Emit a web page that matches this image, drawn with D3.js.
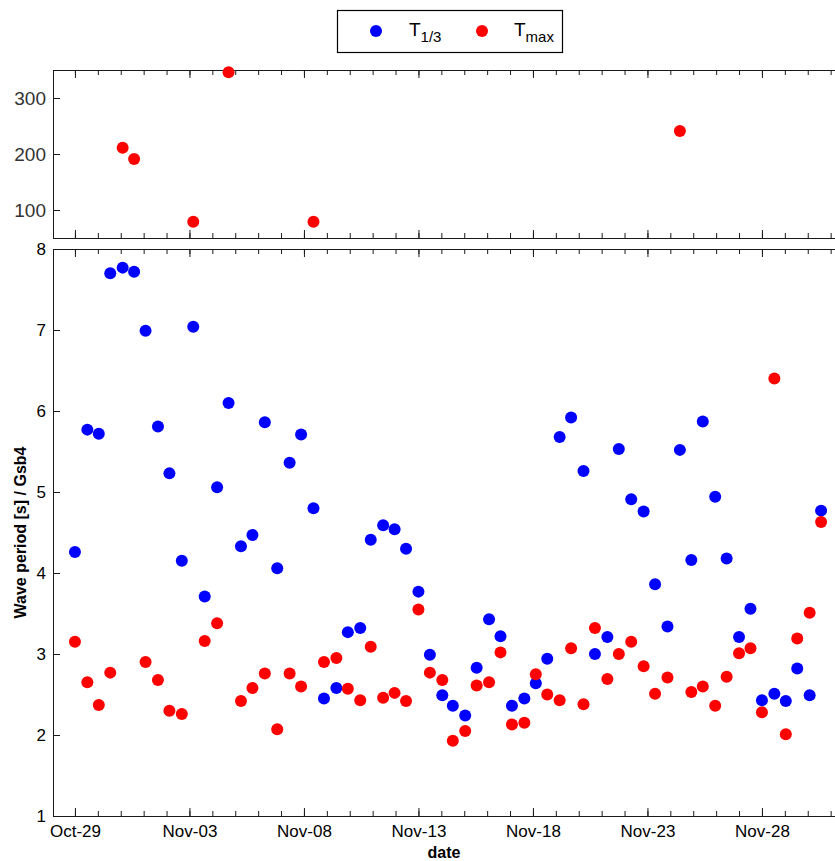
<!DOCTYPE html>
<html>
<head>
<meta charset="utf-8">
<script src="https://cdn.jsdelivr.net/npm/d3@7"></script>
<style>
  body { margin: 0; background: #fff; }
  svg { display: block; }
  text { font-family: "Liberation Sans", Arial, sans-serif; }
  .narrow { font-family: "Liberation Sans Narrow", "Arial Narrow", "Liberation Sans", sans-serif; }
</style>
</head>
<body>
<svg id="chart" width="835" height="861"></svg>
<script>
// Wave periods at station Gsb4, one value per tidal cycle (~12.4 h).
const startTime = "2012-10-29T00:00";
const hoursFromStart = [
  0, 13, 25, 37, 50, 62, 74, 87, 99, 112,
  124, 136, 149, 161, 174, 186, 199, 212, 225, 237,
  250, 261, 274, 286, 299, 310, 323, 335, 347, 360,
  372, 385, 396, 409, 421, 434, 446, 458, 471, 483,
  495, 508, 520, 533, 545, 558, 570, 583, 596, 608,
  621, 634, 646, 658, 671, 683, 696, 708, 720, 733,
  745, 757, 770, 782
];
const tOneThird = [
  4.26, 5.77, 5.72, 7.70, 7.77, 7.72, 6.99, 5.81, 5.23, 4.15,
  7.04, 3.71, 5.06, 6.10, 4.33, 4.47, 5.86, 4.06, 5.36, 5.71,
  4.80, 2.45, 2.58, 3.27, 3.32, 4.41, 4.59, 4.54, 4.30, 3.77,
  2.99, 2.49, 2.36, 2.24, 2.83, 3.43, 3.22, 2.36, 2.45, 2.64,
  2.94, 5.68, 5.92, 5.26, 3.00, 3.21, 5.53, 4.91, 4.76, 3.86,
  3.34, 5.52, 4.16, 5.87, 4.94, 4.18, 3.21, 3.56, 2.43, 2.51,
  2.42, 2.82, 2.49, 4.77
];
const tMax = [
  3.15, 2.65, 2.37, 2.77, 211, 191, 2.90, 2.68, 2.30, 2.26,
  79, 3.16, 3.38, 346, 2.42, 2.58, 2.76, 2.07, 2.76, 2.60,
  79, 2.90, 2.95, 2.57, 2.43, 3.09, 2.46, 2.52, 2.42, 3.55,
  2.77, 2.68, 1.93, 2.05, 2.61, 2.65, 3.02, 2.13, 2.15, 2.75,
  2.50, 2.43, 3.07, 2.38, 3.32, 2.69, 3.00, 3.15, 2.85, 2.51,
  2.71, 241, 2.53, 2.60, 2.36, 2.72, 3.01, 3.07, 2.28, 6.40,
  2.01, 3.19, 3.51, 4.63
];
const dateTickLabels = ["Oct-29", "Nov-03", "Nov-08", "Nov-13", "Nov-18", "Nov-23", "Nov-28"];
const lowerTicks = [1, 2, 3, 4, 5, 6, 7, 8];
const upperTicks = [100, 200, 300];
const lowerRange = [1, 8];
const upperRange = [50, 350];
const seriesColors = { sig: "#0000ff", max: "#ff0000" };

const svg = d3.select("#chart");
const plotLeft = 53, plotRight = 844;
const upperBox = { top: 70, bottom: 238 };
const lowerBox = { top: 249, bottom: 816 };
const r = 6;

const t0 = new Date(startTime);
const times = hoursFromStart.map(h => d3.timeHour.offset(t0, h));
const parseTick = d3.timeParse("%Y-%b-%d");
const majorDates = dateTickLabels.map(s => parseTick(t0.getFullYear() + "-" + s));
const fmtTick = d3.timeFormat("%b-%d");

const x = d3.scaleTime()
  .domain([d3.timeHour.offset(t0, -23), d3.timeHour.offset(t0, 806)])
  .range([plotLeft, plotRight]);
const minorDates = d3.timeDay.range(x.domain()[0], x.domain()[1]);

const yLow = d3.scaleLinear().domain(lowerRange).range([lowerBox.bottom, lowerBox.top]);
const yUp = d3.scaleLinear().domain(upperRange).range([upperBox.bottom, upperBox.top]);

function frame(box, y, ticks) {
  const g = svg.append("g");
  g.append("rect")
    .attr("x", plotLeft + 0.5).attr("y", box.top + 0.5)
    .attr("width", plotRight - plotLeft).attr("height", box.bottom - box.top)
    .attr("fill", "none").attr("stroke", "#1a1a1a").attr("stroke-width", 1);

  // date ticks along top and bottom edges, pointing inwards
  const tickSets = [
    { vals: minorDates, len: 5 },
    { vals: majorDates, len: 8 }
  ];
  tickSets.forEach(ts => {
    g.append("g").attr("transform", `translate(0,${box.bottom})`)
      .call(d3.axisBottom(x).tickValues(ts.vals).tickSize(-ts.len).tickSizeOuter(0).tickFormat(""))
      .call(a => a.select(".domain").remove());
    g.append("g").attr("transform", `translate(0,${box.top})`)
      .call(d3.axisTop(x).tickValues(ts.vals).tickSize(-ts.len).tickSizeOuter(0).tickFormat(""))
      .call(a => a.select(".domain").remove());
  });

  const ay = g.append("g").attr("transform", `translate(${plotLeft},0)`)
    .call(d3.axisLeft(y).tickValues(ticks).tickSize(-7).tickSizeOuter(0)
      .tickPadding(7).tickFormat(d3.format("d")));
  ay.select(".domain").remove();
  g.selectAll(".tick line").attr("stroke", "#1a1a1a");
  return { g, ay };
}

const up = frame(upperBox, yUp, upperTicks);
up.ay.selectAll(".tick text").attr("font-size", 19).attr("fill", "#333");

const low = frame(lowerBox, yLow, lowerTicks);
low.ay.selectAll(".tick text").attr("font-size", 17).attr("fill", "#000");

// date labels under the lower panel
svg.append("g").attr("transform", `translate(0,${lowerBox.bottom})`)
  .call(d3.axisBottom(x).tickValues(majorDates).tickSize(0).tickPadding(9).tickFormat(fmtTick))
  .call(a => a.select(".domain").remove())
  .call(a => a.selectAll("text").attr("font-size", 17).attr("fill", "#000"));

// scatter points
const points = [];
times.forEach((t, i) => {
  points.push({ t, v: tOneThird[i], c: seriesColors.sig });
});
times.forEach((t, i) => {
  points.push({ t, v: tMax[i], c: seriesColors.max });
});
const inLow = points.filter(p => p.v <= lowerRange[1]);
const inUp = points.filter(p => p.v > lowerRange[1]);

svg.append("g").selectAll("circle").data(inLow).join("circle")
  .attr("cx", d => x(d.t)).attr("cy", d => yLow(d.v)).attr("r", r)
  .attr("fill", d => d.c);
svg.append("g").selectAll("circle").data(inUp).join("circle")
  .attr("cx", d => x(d.t)).attr("cy", d => yUp(d.v)).attr("r", r)
  .attr("fill", d => d.c);

// axis titles
svg.append("text")
  .attr("transform", `translate(26,${(lowerBox.top + lowerBox.bottom) / 2}) rotate(-90)`)
  .attr("text-anchor", "middle").attr("font-weight", "bold").attr("font-size", 16)
  .text("Wave period [s] / Gsb4");
svg.append("text")
  .attr("x", 444).attr("y", 858)
  .attr("text-anchor", "middle").attr("font-weight", "bold").attr("font-size", 16)
  .text("date");

// legend
const leg = svg.append("g");
leg.append("rect").attr("x", 337.5).attr("y", 10.5).attr("width", 225).attr("height", 42)
  .attr("fill", "#fff").attr("stroke", "#000").attr("stroke-width", 1.2);
const legItems = [
  { c: seriesColors.sig, sub: "1/3", cx: 376, tx: 409 },
  { c: seriesColors.max, sub: "max", cx: 482, tx: 514 }
];
legItems.forEach(it => {
  leg.append("circle").attr("cx", it.cx).attr("cy", 31).attr("r", r).attr("fill", it.c);
  const tt = leg.append("text").attr("class", "narrow").attr("x", it.tx).attr("y", 36)
    .attr("font-size", 19).attr("fill", "#000");
  tt.append("tspan").text("T");
  tt.append("tspan").attr("dy", 6).attr("font-size", 15).text(it.sub);
});
</script>
</body>
</html>
